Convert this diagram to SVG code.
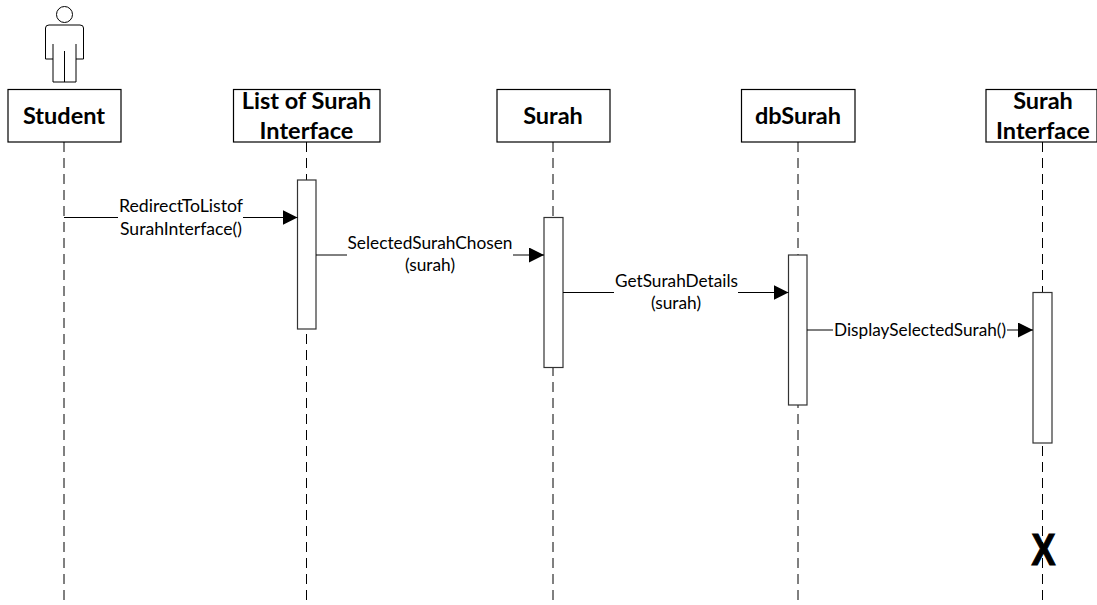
<svg xmlns="http://www.w3.org/2000/svg" width="1097" height="605" viewBox="0 0 1097 605">
<style>
.box{fill:#fff;stroke:#000;stroke-width:1.2}
.life{fill:none;stroke:#000;stroke-width:1;stroke-dasharray:10 6}
.act{fill:#fff;stroke:#333;stroke-width:1.2}
.msg{fill:none;stroke:#000;stroke-width:1;marker-end:url(#arrow)}
.seg{fill:none;stroke:#000;stroke-width:1}
.t{font-family:"Lato","Liberation Sans",sans-serif;font-weight:700;font-size:23.5px;text-anchor:middle;fill:#000}
.m{font-family:"Lato","Liberation Sans",sans-serif;font-size:17.3px;text-anchor:middle;fill:#000}
.icon{fill:#fff;stroke:#000;stroke-width:1}
.iconl{fill:none;stroke:#000;stroke-width:1}
</style>
<defs>
<marker id="arrow" markerUnits="userSpaceOnUse" markerWidth="16" markerHeight="16" refX="15" refY="7.500" orient="auto"><path d="M0 0L15 7.500L0 15Z" fill="#000"/></marker>
</defs>
<g id="lifelines">
<path class="life" d="M64 142V604"/>
<path class="life" d="M306.500 142V604"/>
<path class="life" d="M553 142V604"/>
<path class="life" d="M798 142V604"/>
<path class="life" d="M1042.500 142V604"/>
</g>
<g id="actor-icon">
<circle class="icon" cx="64.500" cy="14.500" r="8"/>
<path class="icon" d="M49 25H80Q83.500 25 83.500 28V59H76V82H53V59H45.500V28Q45.500 25 49 25Z"/>
<path class="iconl" d="M53 59V44M76 59V44M64.500 51V82"/>
</g>
<g id="student"><rect class="box" x="8" y="89.500" width="113" height="52.500"/><text class="t" x="64" y="124">Student</text></g>
<g id="list-of-surah-interface"><rect class="box" x="233.500" y="89.500" width="146.500" height="52.500"/><text class="t" x="306.500" y="109">List of Surah</text><text class="t" x="306.500" y="139">Interface</text></g>
<g id="surah"><rect class="box" x="497" y="89.500" width="113" height="52.500"/><text class="t" x="553" y="124">Surah</text></g>
<g id="dbsurah"><rect class="box" x="741.500" y="89.500" width="113.500" height="52.500"/><text class="t" x="798" y="124">dbSurah</text></g>
<g id="surah-interface"><rect class="box" x="986" y="89.500" width="111" height="52.500"/><text class="t" x="1043" y="109">Surah</text><text class="t" x="1043" y="139">Interface</text></g>
<g id="activations">
<rect class="act" x="297.500" y="180" width="18.500" height="149"/>
<rect class="act" x="544" y="217.500" width="19" height="150"/>
<rect class="act" x="788.500" y="255" width="18.500" height="150"/>
<rect class="act" x="1033" y="292.500" width="19" height="150.500"/>
</g>
<g id="connectors">
<path class="seg" d="M64 217.500H118"/><path class="msg" d="M243 217.500H297.500"/>
<path class="seg" d="M316 255H347"/><path class="msg" d="M513 255H544"/>
<path class="seg" d="M563 292.500H614"/><path class="msg" d="M738 292.500H788.500"/>
<path class="seg" d="M807 330H833"/><path class="msg" d="M1007 330H1033"/>
</g>
<g id="labels">
<text class="m" x="181" y="212" textLength="124" lengthAdjust="spacingAndGlyphs">RedirectToListof</text><text class="m" x="181" y="235" textLength="122" lengthAdjust="spacingAndGlyphs">SurahInterface()</text>
<text class="m" x="430" y="249" textLength="165" lengthAdjust="spacingAndGlyphs">SelectedSurahChosen</text><text class="m" x="430" y="271">(surah)</text>
<text class="m" x="676.500" y="287" textLength="123" lengthAdjust="spacingAndGlyphs">GetSurahDetails</text><text class="m" x="676" y="309">(surah)</text>
<text class="m" x="920" y="336" textLength="172" lengthAdjust="spacingAndGlyphs">DisplaySelectedSurah()</text>
</g>
<g id="destroy"><text x="1043.500" y="564.500" font-family="Liberation Sans, sans-serif" font-weight="700" font-size="45" text-anchor="middle" fill="#000" stroke="#000" stroke-width="1.2" textLength="24" lengthAdjust="spacingAndGlyphs">X</text></g>
</svg>
